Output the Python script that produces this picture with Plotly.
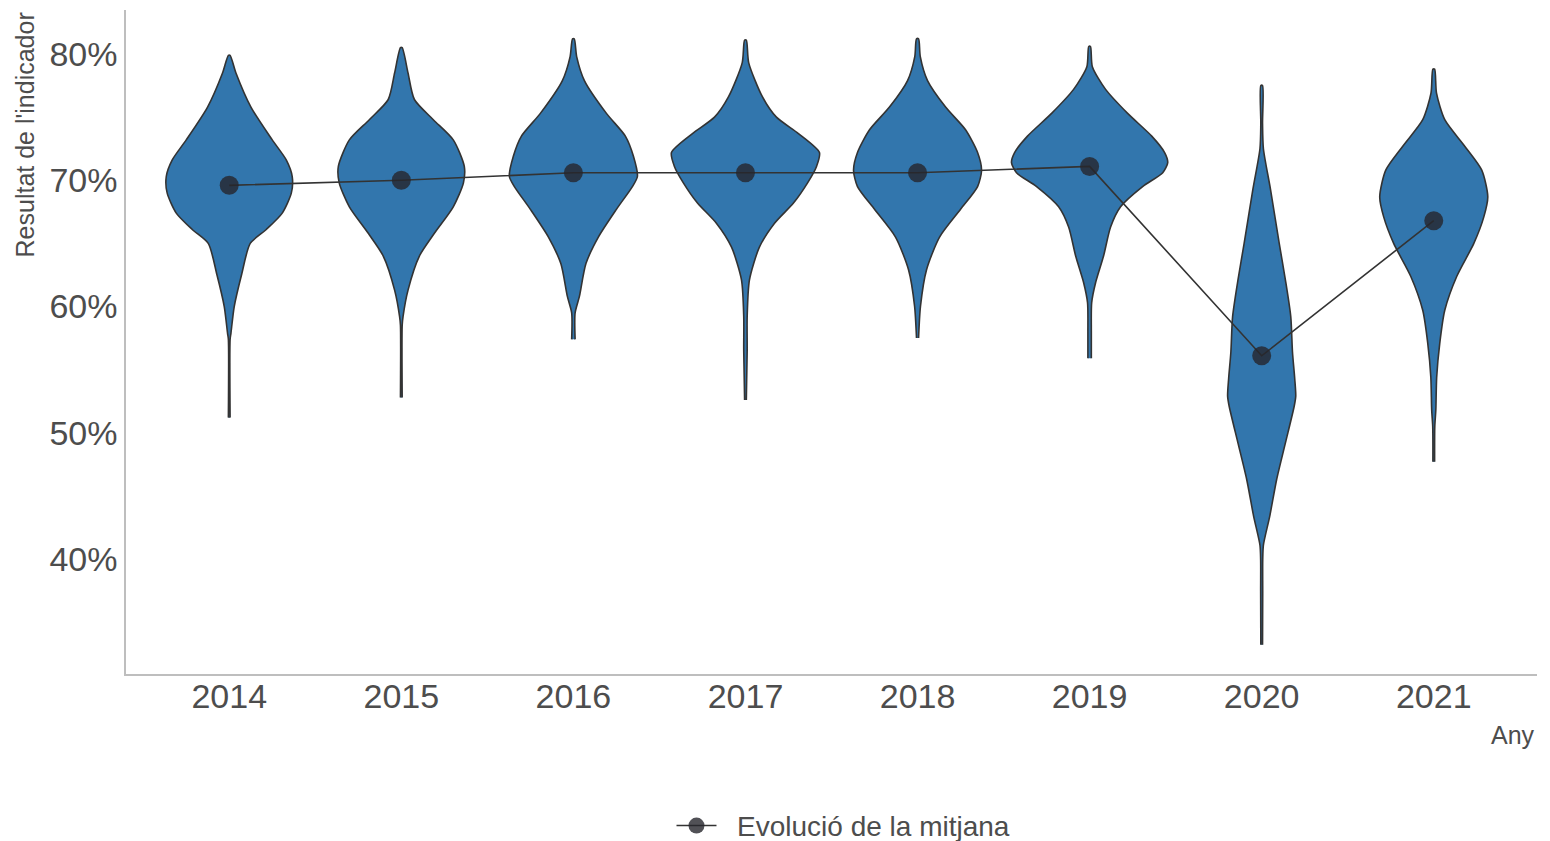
import plotly.graph_objects as go

years = ['2014', '2015', '2016', '2017', '2018', '2019', '2020', '2021']
mean_values = [69.6, 70.0, 70.6, 70.6, 70.6, 71.1, 56.1, 66.8]
y_ticks = [40, 50, 60, 70, 80]
y_tick_labels = ['40%', '50%', '60%', '70%', '80%']

# violin outlines: value levels (%) and half-widths (in category units)
levels_2014 = [51.2, 57.4, 57.9, 60.0, 62.6, 65.0, 66.1, 67.4, 69.0, 70.3, 71.6, 73.2, 75.8, 78.5, 79.9]
widths_2014 = [0.005, 0.005, 0.010, 0.029, 0.073, 0.122, 0.215, 0.308, 0.361, 0.366, 0.332, 0.250, 0.126, 0.039, 0.005]
levels_2015 = [52.8, 58.5, 59.2, 61.3, 64.0, 65.8, 67.9, 69.8, 71.1, 73.2, 74.8, 76.4, 78.5, 80.5]
widths_2015 = [0.005, 0.005, 0.010, 0.039, 0.105, 0.192, 0.302, 0.361, 0.366, 0.302, 0.186, 0.076, 0.039, 0.005]
levels_2016 = [57.4, 59.5, 60.8, 63.4, 65.5, 67.7, 69.5, 70.3, 71.9, 73.5, 75.3, 77.9, 79.8, 81.2]
widths_2016 = [0.010, 0.010, 0.035, 0.073, 0.145, 0.250, 0.343, 0.372, 0.349, 0.302, 0.192, 0.064, 0.019, 0.005]
levels_2017 = [52.6, 56.5, 59.2, 62.1, 64.7, 66.6, 68.2, 69.8, 71.1, 72.2, 73.7, 75.0, 76.6, 79.3, 81.1]
widths_2017 = [0.005, 0.010, 0.010, 0.023, 0.081, 0.169, 0.279, 0.361, 0.413, 0.430, 0.308, 0.180, 0.099, 0.019, 0.005]
levels_2018 = [57.5, 60.0, 62.9, 65.5, 67.7, 69.5, 70.8, 72.2, 74.0, 75.8, 77.9, 79.8, 81.2]
widths_2018 = [0.006, 0.017, 0.052, 0.128, 0.250, 0.349, 0.372, 0.349, 0.279, 0.163, 0.058, 0.016, 0.006]
levels_2019 = [55.9, 58.0, 60.3, 61.9, 64.0, 66.3, 67.9, 69.5, 70.6, 71.4, 72.2, 73.5, 75.3, 77.2, 79.0, 80.6]
widths_2019 = [0.010, 0.010, 0.012, 0.035, 0.081, 0.122, 0.180, 0.308, 0.425, 0.454, 0.436, 0.361, 0.221, 0.093, 0.016, 0.005]
levels_2020 = [33.2, 37.4, 39.9, 41.1, 43.4, 46.3, 49.2, 52.1, 52.9, 54.3, 56.4, 59.2, 62.1, 65.0, 69.3, 72.5, 74.5, 77.5]
widths_2020 = [0.005, 0.006, 0.006, 0.010, 0.047, 0.087, 0.138, 0.189, 0.198, 0.192, 0.179, 0.169, 0.138, 0.102, 0.051, 0.010, 0.005, 0.005]
levels_2021 = [47.7, 50.5, 51.8, 54.4, 57.1, 59.7, 62.4, 65.0, 67.1, 68.7, 70.8, 72.7, 74.8, 76.9, 78.8]
widths_2021 = [0.005, 0.006, 0.012, 0.017, 0.035, 0.064, 0.134, 0.233, 0.291, 0.314, 0.279, 0.180, 0.064, 0.016, 0.005]

all_levels = [levels_2014, levels_2015, levels_2016, levels_2017,
              levels_2018, levels_2019, levels_2020, levels_2021]
all_widths = [widths_2014, widths_2015, widths_2016, widths_2017,
              widths_2018, widths_2019, widths_2020, widths_2021]

FONT = 'Liberation Sans, Arial, sans-serif'
TEXT = '#4d4d4d'

fig = go.Figure()

for i, (lv, wd) in enumerate(zip(all_levels, all_widths)):
    # right side going up, left side coming back down
    xs = [i + w for w in wd] + [i - w for w in wd[::-1]]
    ys = lv + lv[::-1]
    fig.add_trace(go.Scatter(x=xs, y=ys, mode='lines', fill='toself',
                             fillcolor='#3276ad',
                             line=dict(color='#333333', width=1.6, shape='spline', smoothing=0.7),
                             showlegend=False, hoverinfo='skip'))

# nbsp's only widen the gap between the legend symbol and its text
fig.add_trace(go.Scatter(x=list(range(len(years))), y=mean_values,
                         mode='lines+markers', name='\u00a0\u00a0Evolució de la mitjana',
                         line=dict(color='#333333', width=1.6),
                         marker=dict(size=19, color='rgba(38,38,44,0.8)')))

fig.update_layout(
    width=1550, height=841,
    margin=dict(l=126, r=13, t=10, b=167),
    plot_bgcolor='white', paper_bgcolor='white',
    font=dict(family=FONT, color=TEXT),
    legend=dict(orientation='h', x=0.5085, xanchor='center',
                yref='container', y=0.018, yanchor='middle',
                itemwidth=40, font=dict(size=28, color=TEXT)),
    annotations=[
        dict(text='Any', x=1, xref='paper', xanchor='right', y=-0.092, yref='paper',
             yanchor='middle', showarrow=False, font=dict(size=25, color=TEXT)),
        dict(text="Resultat de l'indicador", textangle=-90, x=-0.0716, xref='paper',
             xanchor='center', y=1, yref='paper', yanchor='top', showarrow=False,
             font=dict(size=25, color=TEXT)),
    ],
)
fig.update_xaxes(range=[-0.6, 7.6], tickvals=list(range(len(years))), ticktext=years,
                 showgrid=False, zeroline=False, showline=True, linecolor='#bebebe',
                 linewidth=1.5, ticks='', ticklabelstandoff=-9,
                 tickfont=dict(size=34, color=TEXT))
fig.update_yaxes(range=[30.89, 83.49], tickvals=y_ticks, ticktext=y_tick_labels,
                 showgrid=False, zeroline=False, showline=True, linecolor='#bebebe',
                 linewidth=1.5, ticks='', tickfont=dict(size=34, color=TEXT))

# drop the default page margin so the figure sits at the window's corner
fig.write_html('out.html', config={'displayModeBar': False},
               post_script="document.body.style.margin='0';")
